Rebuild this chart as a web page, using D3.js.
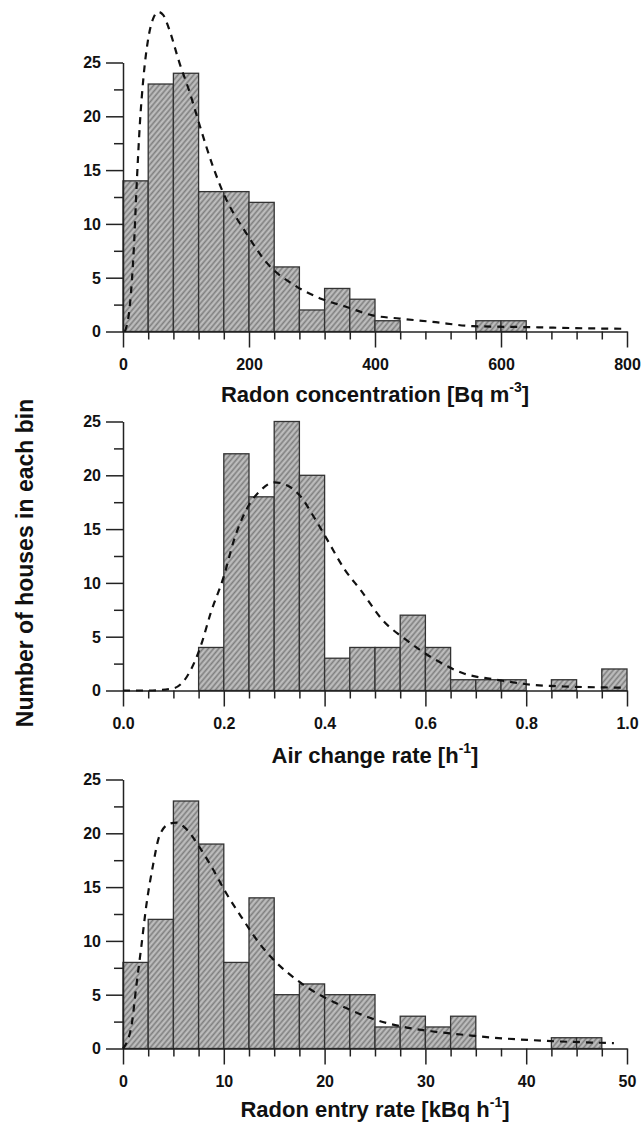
<meta charset="utf-8">
<style>
body { margin: 0; background: #fff; }
svg { display: block; }
.tick text { font-family: "Liberation Sans", Arial, Helvetica, sans-serif; font-weight: bold; font-size: 16px; fill: #111; }
.title { font-family: "Liberation Sans", Arial, Helvetica, sans-serif; font-weight: bold; font-size: 22px; fill: #111; }
.axis path, .axis line { stroke: #222; stroke-width: 1.5; }
.bar { fill: url(#hatch); stroke: #333; stroke-width: 1.3; }
.fit { fill: none; stroke: #111; stroke-width: 2.2; stroke-dasharray: 7,6; }
</style>
<body>
<script src="https://cdnjs.cloudflare.com/ajax/libs/d3/7.8.5/d3.min.js"></script>
<script>

// radon concentration, bins of 40 Bq/m3
var concBinStart = [0,40,80,120,160,200,240,280,320,360,400,440,480,520,560,600];
var concCounts   = [14,23,24,13,13,12,6,2,4,3,1,0,0,0,1,1];
var concCurveX = [3,11,17,22,27,32,40,48,56,64,72,90,106,122,143,159,196,228,275,312,354,396,439,491,555,650,729,798];
var concCurveY = [0,2.5,7.5,14,19.5,23.3,27.2,29.1,29.7,29.4,28.3,24.9,22.2,19.1,15.3,12.9,9.1,6.4,4.2,3.1,2.3,1.5,1.2,0.9,0.5,0.4,0.3,0.25];
var concLabels = [0,200,400,600,800];

// air change rate, bins of 0.05 per hour
var airBinStart = [0.15,0.2,0.25,0.3,0.35,0.4,0.45,0.5,0.55,0.6,0.65,0.7,0.75,0.8,0.85,0.9,0.95];
var airCounts   = [4,22,18,25,20,3,4,4,7,4,1,1,1,0,1,0,2];
var airCurveX = [0,0.05,0.10,0.127,0.154,0.174,0.2,0.22,0.247,0.273,0.3,0.326,0.353,0.379,0.406,0.439,0.472,0.516,0.562,0.615,0.675,0.741,0.808,0.874,0.94,1.0];
var airCurveY = [0,0,0.2,1.3,4.1,7.2,10.6,13.95,17,18.6,19.35,19.05,18,16.1,13.95,11.3,9.3,6.5,4.7,3.0,1.6,1.0,0.55,0.37,0.3,0.25];
var airLabels = [0,0.2,0.4,0.6,0.8,1.0];

// radon entry rate, bins of 2.5 kBq/h
var entryBinStart = [0,2.5,5,7.5,10,12.5,15,17.5,20,22.5,25,27.5,30,32.5,35,37.5,40,42.5,45];
var entryCounts   = [8,12,23,19,8,14,5,6,5,5,2,3,2,3,0,0,0,1,1];
var entryCurveX = [0,0.83,1.32,1.82,2.3,2.97,3.63,4.62,5.3,6.28,7.6,8.9,10.2,11.9,13.5,15.2,17.2,19.1,20.3,22.3,24.95,27.9,30.6,33.5,36.8,40.1,43.4,46.7,48.7];
var entryCurveY = [0,2.05,5.8,9.5,13.2,17,19.8,20.9,21.0,20.4,18.7,16.7,14.5,12.0,9.8,8.0,6.4,5.2,4.6,3.7,2.7,2.0,1.6,1.3,1.0,0.8,0.65,0.55,0.5];
var entryLabels = [0,10,20,30,40,50];

var yTicks = [0,2.5,5,7.5,10,12.5,15,17.5,20,22.5,25];
var yLabel = "Number of houses in each bin";

var width = 642, height = 1123;
var left = 123, right = 627;

var svg = d3.select("body").append("svg")
    .attr("width", width)
    .attr("height", height);

// grey fill with diagonal hatching
var defs = svg.append("defs");
var pat = defs.append("pattern")
    .attr("id", "hatch")
    .attr("patternUnits", "userSpaceOnUse")
    .attr("width", 4).attr("height", 4)
    .attr("patternTransform", "rotate(40)");
pat.append("rect").attr("width", 4).attr("height", 4).attr("fill", "#a9a9a9");
pat.append("line").attr("x1", 0.5).attr("y1", 0).attr("x2", 0.5).attr("y2", 4)
    .attr("stroke", "#7e7e7e").attr("stroke-width", 1.1);
pat.append("line").attr("x1", 2.5).attr("y1", 0).attr("x2", 2.5).attr("y2", 4)
    .attr("stroke", "#c6c6c6").attr("stroke-width", 0.9);

function drawPanel(p) {
  var x = d3.scaleLinear().domain([0, p.xMax]).range([left, right]);
  var y = d3.scaleLinear().domain([0, 25]).range([p.base, p.base - 269]);
  var g = svg.append("g");

  g.selectAll("rect.bar")
      .data(p.starts.map(function(s, i) { return {x0: s, n: p.counts[i]}; })
                    .filter(function(d) { return d.n > 0; }))
    .enter().append("rect")
      .attr("class", "bar")
      .attr("x", function(d) { return x(d.x0); })
      .attr("width", function(d) { return x(d.x0 + p.bin) - x(d.x0); })
      .attr("y", function(d) { return y(d.n); })
      .attr("height", function(d) { return y(0) - y(d.n); });

  // x axis: a tick at every bin edge, longer ones where there is a label
  var xt = d3.range(0, 21).map(function(i) { return i * p.bin; });
  var isMajor = function(d) {
    return p.labels.some(function(l) { return Math.abs(l - d) < p.bin / 10; });
  };
  var xa = g.append("g").attr("class", "axis")
      .attr("transform", "translate(0," + p.base + ")")
      .call(d3.axisBottom(x).tickValues(xt).tickSizeInner(8).tickSizeOuter(0)
        .tickFormat(function(d) { return isMajor(d) ? p.fmt(d) : ""; }));
  xa.selectAll(".tick line").attr("y2", function(d) { return isMajor(d) ? 16 : 8; });
  xa.selectAll(".tick text").attr("y", 27).attr("dy", "0.71em");

  var ya = g.append("g").attr("class", "axis")
      .attr("transform", "translate(" + left + ",0)")
      .call(d3.axisLeft(y).tickValues(yTicks).tickSizeInner(9).tickSizeOuter(0)
        .tickFormat(function(d) { return d % 5 == 0 ? d : ""; }));
  ya.selectAll(".tick line").attr("x2", function(d) { return d % 5 == 0 ? -17 : -9; });
  ya.selectAll(".tick text").attr("x", -22).attr("dy", "0.34em");

  var line = d3.line()
      .x(function(d) { return x(d[0]); })
      .y(function(d) { return y(d[1]); })
      .curve(d3.curveMonotoneX);
  g.append("path").attr("class", "fit")
      .attr("d", line(d3.zip(p.cx, p.cy)));

  var t = g.append("text").attr("class", "title")
      .attr("x", (left + right) / 2).attr("y", p.base + p.titleDy)
      .attr("text-anchor", "middle");
  t.append("tspan").text(p.title);
  t.append("tspan").attr("font-size", 14).attr("dy", -10).text(p.sup);
  t.append("tspan").attr("dy", 10).text("]");
}

drawPanel({base: 331.5, xMax: 800, bin: 40, starts: concBinStart, counts: concCounts,
  cx: concCurveX, cy: concCurveY, labels: concLabels, fmt: d3.format("d"),
  title: "Radon concentration [Bq m", sup: "-3", titleDy: 70});
drawPanel({base: 690.5, xMax: 1, bin: 0.05, starts: airBinStart, counts: airCounts,
  cx: airCurveX, cy: airCurveY, labels: airLabels, fmt: d3.format(".1f"),
  title: "Air change rate [h", sup: "-1", titleDy: 72});
drawPanel({base: 1048.5, xMax: 50, bin: 2.5, starts: entryBinStart, counts: entryCounts,
  cx: entryCurveX, cy: entryCurveY, labels: entryLabels, fmt: d3.format("d"),
  title: "Radon entry rate [kBq h", sup: "-1", titleDy: 68});

svg.append("text")
    .attr("class", "title")
    .style("font-size", "23px")
    .attr("transform", "translate(33,563) rotate(-90)")
    .attr("text-anchor", "middle")
    .text(yLabel);

</script>
